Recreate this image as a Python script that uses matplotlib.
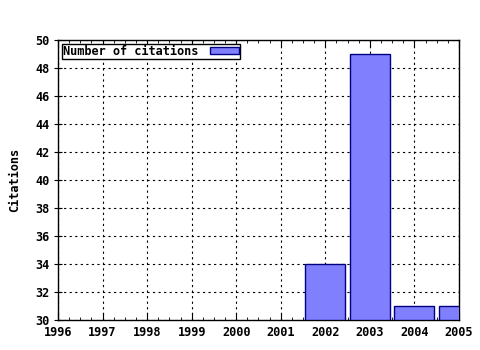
import matplotlib
matplotlib.use("Agg")
import matplotlib.pyplot as plt
from matplotlib.ticker import MultipleLocator

years = [2002, 2003, 2004, 2005]
citations = [34, 49, 31, 31]
xticks = list(range(1996, 2006))
yticks = list(range(30, 51, 2))

plt.rcParams['font.family'] = ['DejaVu Sans Mono']
plt.rcParams['font.weight'] = 'bold'

fs = 8.6
fig = plt.figure(figsize=(4.8, 3.5), dpi=100)
ax = fig.add_axes([58/480, 30/350, (459-58)/480, (320-40)/350])
ax.bar(years, [c - 30 for c in citations], bottom=30, width=0.9,
       color='#8080ff', edgecolor='#000080', linewidth=1, label='Number of citations', zorder=3)
ax.set_xlim(1996, 2005)
ax.set_ylim(30, 50)
ax.set_xticks(xticks)
ax.set_xticklabels([str(x) for x in xticks], fontsize=fs, fontweight='bold')
ax.set_yticks(yticks)
ax.set_yticklabels([str(y) for y in yticks], fontsize=fs, fontweight='bold')
ax.xaxis.set_minor_locator(MultipleLocator(0.25))
ax.tick_params(axis='x', which='major', direction='in', length=5, top=True, pad=4)
ax.tick_params(axis='x', which='minor', direction='in', length=2, top=True)
ax.tick_params(axis='y', which='major', direction='inout', length=6, pad=3)
ax.grid(True, which='major', color='black', linestyle=(0, (2, 3)), linewidth=0.8, zorder=0)
ax.set_axisbelow(True)
ax.set_ylabel('Citations', fontsize=fs, fontweight='bold', labelpad=10)
for s in ax.spines.values():
    s.set_color('black')
    s.set_linewidth(1)
leg = ax.legend(loc='upper left', markerfirst=False, fontsize=fs, handlelength=2.4, handleheight=0.5,
                borderaxespad=0.3, borderpad=0.1, fancybox=False, framealpha=1, edgecolor='black',
                handletextpad=1.0)
leg.get_frame().set_linewidth(1)
fig.savefig('out.png', dpi=100)
